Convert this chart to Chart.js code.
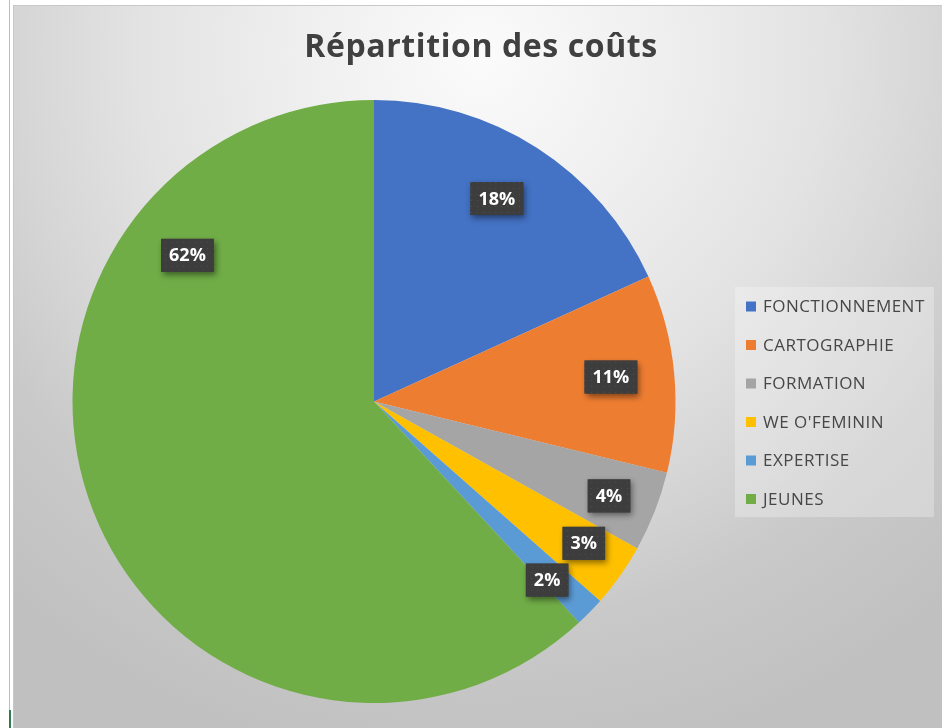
<!DOCTYPE html>
<html>
<head>
<meta charset="utf-8">
<script src="https://cdn.jsdelivr.net/npm/chart.js@4.4.1/dist/chart.umd.min.js"></script>
<style>
  html, body { margin: 0; padding: 0; background: #fff; width: 942px; height: 728px; overflow: hidden; }
  #edge { position: absolute; left: 9px; top: 0; width: 1px; height: 728px; background: #bdbdbd; }
  #edgeSel { position: absolute; left: 9px; top: 710px; width: 2px; height: 18px; background: #2e7d4f; }
  #frame {
    position: absolute; left: 13px; top: 5px; width: 929px; height: 723px; box-sizing: border-box;
    border-left: 1px solid #c8c8c8; border-top: 1px solid #c8c8c8;
    background: radial-gradient(circle at 467px 50px, #fbfbfb 0px, #efefef 180px, #e3e3e3 340px, #d6d6d6 460px, #c9c9c9 570px, #c0c0c0 720px);
  }
  #wrap { position: absolute; left: 13px; top: 6px; width: 929px; height: 722px; }
</style>
</head>
<body>
<div id="edge"></div>
<div id="edgeSel"></div>
<div id="frame"></div>
<div id="wrap"><canvas id="chart" width="929" height="722"></canvas></div>
<script>
const title = "Répartition des coûts";
const categories = ["FONCTIONNEMENT", "CARTOGRAPHIE", "FORMATION", "WE O'FEMININ", "EXPERTISE", "JEUNES"];
const shares = [18.2, 10.6, 4.3, 3.4, 1.6, 61.9];
const colors = ["#4472C4", "#ED7D31", "#A5A5A5", "#FFC000", "#5B9BD5", "#70AD47"];

// where each percentage box sits: fraction along the slice, fraction of the radius
const labelAngle = [0.476, 0.487, 0.53, 0.40, 0.78, 0.767];
const labelRadius = [0.787, 0.79, 0.84, 0.84, 0.825, 0.786];

function dotPattern(ctx) {
  const c = document.createElement("canvas");
  c.width = 6; c.height = 6;
  const p = c.getContext("2d");
  p.fillStyle = "#3d3d3d";
  p.fillRect(0, 0, 6, 6);
  p.fillStyle = "#4d4d4d";
  p.fillRect(2, 2, 1, 1);
  return ctx.createPattern(c, "repeat");
}

const titlePlugin = {
  id: "titleText",
  afterDraw(chart) {
    const ctx = chart.ctx;
    ctx.save();
    ctx.font = "bold 32px 'Open Sans'";
    ctx.letterSpacing = "0.6px";
    ctx.fillStyle = "#404040";
    ctx.textAlign = "center";
    ctx.textBaseline = "alphabetic";
    ctx.fillText(title, 468, 51);
    ctx.restore();
  }
};

const legendPlugin = {
  id: "sideLegend",
  afterDraw(chart) {
    const ctx = chart.ctx;
    ctx.save();
    ctx.fillStyle = "rgba(255,255,255,0.28)";
    ctx.fillRect(722, 281, 199, 230);
    ctx.font = "17px 'Open Sans'";
    ctx.letterSpacing = "0.5px";
    ctx.textBaseline = "middle";
    chart.data.labels.forEach((lab, i) => {
      const y = 300.5 + i * 38.5;
      ctx.fillStyle = chart.data.datasets[0].backgroundColor[i];
      ctx.fillRect(733, y - 5, 10, 10);
      ctx.fillStyle = "#474747";
      ctx.fillText(lab, 750, y + 1);
    });
    ctx.restore();
  }
};

const pctPlugin = {
  id: "pctLabels",
  afterDatasetsDraw(chart) {
    const ctx = chart.ctx;
    const meta = chart.getDatasetMeta(0);
    const data = chart.data.datasets[0].data;
    const total = data.reduce((a, b) => a + b, 0);
    const pat = dotPattern(ctx);
    ctx.save();
    ctx.font = "bold 18px 'Open Sans'";
    meta.data.forEach((arc, i) => {
      const p = arc.getProps(["x", "y", "startAngle", "endAngle", "outerRadius"], true);
      const a = p.startAngle + (p.endAngle - p.startAngle) * labelAngle[i];
      const r = p.outerRadius * labelRadius[i];
      const cx = p.x + Math.cos(a) * r;
      const cy = p.y + Math.sin(a) * r;
      const txt = Math.round(data[i] / total * 100) + "%";
      const w = ctx.measureText(txt).width + 16;
      const h = 33;
      ctx.save();
      ctx.shadowColor = "rgba(0,0,0,0.45)";
      ctx.shadowBlur = 6;
      ctx.shadowOffsetX = 2;
      ctx.shadowOffsetY = 3;
      ctx.fillStyle = "#3d3d3d";
      ctx.fillRect(cx - w / 2, cy - h / 2, w, h);
      ctx.restore();
      ctx.fillStyle = pat;
      ctx.fillRect(cx - w / 2, cy - h / 2, w, h);
      ctx.fillStyle = "#ffffff";
      ctx.textAlign = "center";
      ctx.textBaseline = "middle";
      ctx.fillText(txt, cx, cy + 1);
    });
    ctx.restore();
  }
};

new Chart(document.getElementById("chart"), {
  type: "pie",
  data: {
    labels: categories,
    datasets: [{
      data: shares,
      backgroundColor: colors,
      borderWidth: 0
    }]
  },
  options: {
    responsive: false,
    animation: false,
    layout: { padding: { top: 94, left: 59.5, right: 266.5, bottom: 25 } },
    plugins: {
      legend: { display: false },
      tooltip: { enabled: false }
    }
  },
  plugins: [pctPlugin, legendPlugin, titlePlugin]
});
</script>
</body>
</html>
